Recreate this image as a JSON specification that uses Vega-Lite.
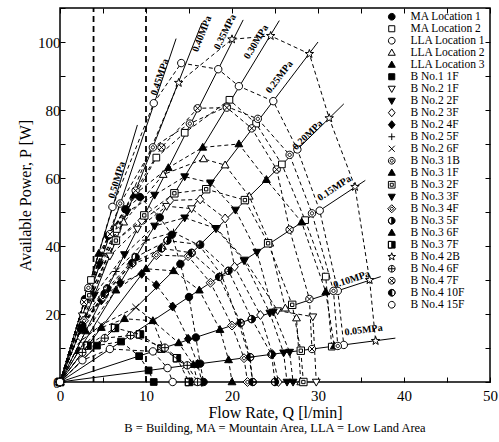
{
"$schema":"https://vega.github.io/schema/vega-lite/v6.json",
"width":430,"height":374,
"autosize":{"type":"none"},
"padding":{"left":60,"top":8,"right":9,"bottom":60},
"background":"white",
"title":{"text":"B = Building, MA = Mountain Area, LLA = Low Land Area","orient":"bottom","anchor":"middle","font":"Liberation Serif","fontSize":12.5,"fontWeight":"normal","color":"black","offset":2},
"datasets":{
"plines":[
{"p":"0.05","Q":0,"P":0},{"p":"0.05","Q":39,"P":12.9},
{"p":"0.10","Q":0,"P":0},{"p":"0.10","Q":37.3,"P":31},
{"p":"0.15","Q":0,"P":0},{"p":"0.15","Q":35.5,"P":59.3},
{"p":"0.20","Q":0,"P":0},{"p":"0.20","Q":33,"P":81.8},
{"p":"0.25","Q":0,"P":0},{"p":"0.25","Q":30,"P":100},
{"p":"0.30","Q":0,"P":0},{"p":"0.30","Q":25.5,"P":106.3},
{"p":"0.35","Q":0,"P":0},{"p":"0.35","Q":21.3,"P":106.5},
{"p":"0.40","Q":0,"P":0},{"p":"0.40","Q":16.5,"P":105.6},
{"p":"0.45","Q":0,"P":0},{"p":"0.45","Q":13.5,"P":101},
{"p":"0.50","Q":0,"P":0},{"p":"0.50","Q":9,"P":75.6}
],
"vlines":[{"v":"a","Q":3.9,"P":0},{"v":"a","Q":3.9,"P":110},{"v":"b","Q":10,"P":0},{"v":"b","Q":10,"P":110}],
"labs":[
{"p":"0.05MPa","Q":35.3,"P":15.3},{"p":"0.10MPa","Q":33.9,"P":30.2},{"p":"0.15MPa","Q":31.9,"P":57},{"p":"0.20MPa","Q":28.8,"P":72.6},{"p":"0.25MPa","Q":25.5,"P":89.7},{"p":"0.30MPa","Q":22.8,"P":100},{"p":"0.35MPa","Q":19.2,"P":103},{"p":"0.40MPa","Q":16.5,"P":102.4},{"p":"0.45MPa","Q":11.6,"P":89.7},{"p":"0.50MPa","Q":6.6,"P":59.4}
],
"pts":[
{"s":"MA Location 1","Q":0,"P":0},{"s":"MA Location 1","Q":2.9,"P":24.4},{"s":"MA Location 1","Q":5.6,"P":43},{"s":"MA Location 1","Q":7.6,"P":50.8},{"s":"MA Location 1","Q":9.3,"P":54.4},{"s":"MA Location 1","Q":11.6,"P":48.4},{"s":"MA Location 1","Q":13,"P":43.3},{"s":"MA Location 1","Q":14,"P":34.7},{"s":"MA Location 1","Q":15,"P":25},{"s":"MA Location 1","Q":15.8,"P":13.1},{"s":"MA Location 1","Q":16.3,"P":5.4},{"s":"MA Location 1","Q":16.7,"P":0},
{"s":"MA Location 2","Q":0,"P":0},{"s":"MA Location 2","Q":3.6,"P":30},{"s":"MA Location 2","Q":6.6,"P":45},{"s":"MA Location 2","Q":11.2,"P":66},{"s":"MA Location 2","Q":14.5,"P":73.3},{"s":"MA Location 2","Q":19.7,"P":83},{"s":"MA Location 2","Q":22.8,"P":76},{"s":"MA Location 2","Q":25.8,"P":64},{"s":"MA Location 2","Q":28.5,"P":47.6},{"s":"MA Location 2","Q":30.9,"P":31},{"s":"MA Location 2","Q":31.6,"P":10.4},
{"s":"LLA Location 1","Q":0,"P":0},{"s":"LLA Location 1","Q":6.1,"P":51.5},{"s":"LLA Location 1","Q":10.9,"P":82},{"s":"LLA Location 1","Q":14.1,"P":93.8},{"s":"LLA Location 1","Q":18.4,"P":92},{"s":"LLA Location 1","Q":20.8,"P":87},{"s":"LLA Location 1","Q":24.8,"P":82.6},{"s":"LLA Location 1","Q":27.6,"P":68.4},{"s":"LLA Location 1","Q":30.2,"P":50.4},{"s":"LLA Location 1","Q":32.3,"P":26.8},{"s":"LLA Location 1","Q":33,"P":10.9},
{"s":"LLA Location 2","Q":0,"P":0},{"s":"LLA Location 2","Q":3.3,"P":27.7},{"s":"LLA Location 2","Q":7.4,"P":47},{"s":"LLA Location 2","Q":12,"P":61},{"s":"LLA Location 2","Q":16.7,"P":65.6},{"s":"LLA Location 2","Q":19.2,"P":63.8},{"s":"LLA Location 2","Q":22,"P":54.6},{"s":"LLA Location 2","Q":24.4,"P":40.8},{"s":"LLA Location 2","Q":26.2,"P":21.7},{"s":"LLA Location 2","Q":27.5,"P":18.8},{"s":"LLA Location 2","Q":28,"P":0},
{"s":"LLA Location 3","Q":0,"P":0},{"s":"LLA Location 3","Q":4.5,"P":37.8},{"s":"LLA Location 3","Q":8.6,"P":55},{"s":"LLA Location 3","Q":12.6,"P":63},{"s":"LLA Location 3","Q":16.6,"P":69},{"s":"LLA Location 3","Q":20.8,"P":70},{"s":"LLA Location 3","Q":24,"P":59.5},{"s":"LLA Location 3","Q":28.1,"P":47},{"s":"LLA Location 3","Q":30.9,"P":26.5},{"s":"LLA Location 3","Q":31.9,"P":10.6},
{"s":"B No.1 1F","Q":0,"P":0},{"s":"B No.1 1F","Q":4.3,"P":10.7},{"s":"B No.1 1F","Q":7.1,"P":11.9},{"s":"B No.1 1F","Q":9.2,"P":7.6},{"s":"B No.1 1F","Q":10.3,"P":3.4},{"s":"B No.1 1F","Q":10.9,"P":0},
{"s":"B No.2 1F","Q":0,"P":0},{"s":"B No.2 1F","Q":2.6,"P":19.5},{"s":"B No.2 1F","Q":5.8,"P":37.1},{"s":"B No.2 1F","Q":9,"P":45},{"s":"B No.2 1F","Q":12.4,"P":51.7},{"s":"B No.2 1F","Q":15.3,"P":51},{"s":"B No.2 1F","Q":18.2,"P":45.2},{"s":"B No.2 1F","Q":21.5,"P":35.9},{"s":"B No.2 1F","Q":25.3,"P":21},{"s":"B No.2 1F","Q":29.4,"P":19.2},{"s":"B No.2 1F","Q":29.8,"P":0},
{"s":"B No.2 2F","Q":0,"P":0},{"s":"B No.2 2F","Q":4.6,"P":34.5},{"s":"B No.2 2F","Q":7.8,"P":50},{"s":"B No.2 2F","Q":11,"P":55},{"s":"B No.2 2F","Q":14.5,"P":60.4},{"s":"B No.2 2F","Q":17.5,"P":58.6},{"s":"B No.2 2F","Q":20.4,"P":50.6},{"s":"B No.2 2F","Q":22.9,"P":38.2},{"s":"B No.2 2F","Q":24.8,"P":20.6},{"s":"B No.2 2F","Q":26.7,"P":8.8},{"s":"B No.2 2F","Q":27.1,"P":0},
{"s":"B No.2 3F","Q":0,"P":0},{"s":"B No.2 3F","Q":3.5,"P":26.3},{"s":"B No.2 3F","Q":6.5,"P":41.6},{"s":"B No.2 3F","Q":9.5,"P":47.5},{"s":"B No.2 3F","Q":12.8,"P":53.4},{"s":"B No.2 3F","Q":16.3,"P":53.7},{"s":"B No.2 3F","Q":19.2,"P":48.1},{"s":"B No.2 3F","Q":20.3,"P":33.9},{"s":"B No.2 3F","Q":23.3,"P":19.7},{"s":"B No.2 3F","Q":24.7,"P":8.2},{"s":"B No.2 3F","Q":25.4,"P":0},
{"s":"B No.2 4F","Q":0,"P":0},{"s":"B No.2 4F","Q":2.4,"P":15.4},{"s":"B No.2 4F","Q":4.8,"P":24},{"s":"B No.2 4F","Q":7,"P":29.2},{"s":"B No.2 4F","Q":9.5,"P":31.8},{"s":"B No.2 4F","Q":11.2,"P":28.5},{"s":"B No.2 4F","Q":13.1,"P":22.2},{"s":"B No.2 4F","Q":14.9,"P":12.7},{"s":"B No.2 4F","Q":16,"P":5.3},{"s":"B No.2 4F","Q":16.5,"P":0},
{"s":"B No.2 5F","Q":0,"P":0},{"s":"B No.2 5F","Q":3,"P":19.2},{"s":"B No.2 5F","Q":6.5,"P":32.5},{"s":"B No.2 5F","Q":10,"P":41.7},{"s":"B No.2 5F","Q":13.2,"P":44},{"s":"B No.2 5F","Q":16.2,"P":40.2},{"s":"B No.2 5F","Q":18.8,"P":31.4},{"s":"B No.2 5F","Q":20.8,"P":17.3},{"s":"B No.2 5F","Q":22,"P":7.3},{"s":"B No.2 5F","Q":22.4,"P":0},
{"s":"B No.2 6F","Q":0,"P":0},{"s":"B No.2 6F","Q":2.4,"P":12},{"s":"B No.2 6F","Q":4.8,"P":16.8},{"s":"B No.2 6F","Q":8.8,"P":22},{"s":"B No.2 6F","Q":10.8,"P":18},{"s":"B No.2 6F","Q":12,"P":10},{"s":"B No.2 6F","Q":14.6,"P":4.8},{"s":"B No.2 6F","Q":15.5,"P":0},
{"s":"B No.3 1B","Q":0,"P":0},{"s":"B No.3 1B","Q":3.3,"P":27.7},{"s":"B No.3 1B","Q":7,"P":52.5},{"s":"B No.3 1B","Q":10.8,"P":69},{"s":"B No.3 1B","Q":15.1,"P":76},{"s":"B No.3 1B","Q":19.4,"P":81},{"s":"B No.3 1B","Q":23,"P":77.4},{"s":"B No.3 1B","Q":26.7,"P":66.8},{"s":"B No.3 1B","Q":29.3,"P":49.6},{"s":"B No.3 1B","Q":31.8,"P":26.8},{"s":"B No.3 1B","Q":32.3,"P":10.6},
{"s":"B No.3 1F","Q":0,"P":0},{"s":"B No.3 1F","Q":2.2,"P":9.2},{"s":"B No.3 1F","Q":4.8,"P":16},{"s":"B No.3 1F","Q":7.5,"P":18.6},{"s":"B No.3 1F","Q":10.8,"P":18},{"s":"B No.3 1F","Q":13.8,"P":11.5},{"s":"B No.3 1F","Q":15.5,"P":5.1},{"s":"B No.3 1F","Q":16,"P":0},
{"s":"B No.3 2F","Q":0,"P":0},{"s":"B No.3 2F","Q":3.4,"P":25.5},{"s":"B No.3 2F","Q":6.5,"P":41.6},{"s":"B No.3 2F","Q":9.8,"P":49},{"s":"B No.3 2F","Q":13.3,"P":55.5},{"s":"B No.3 2F","Q":17,"P":56.7},{"s":"B No.3 2F","Q":21.5,"P":53.5},{"s":"B No.3 2F","Q":24.2,"P":40.8},{"s":"B No.3 2F","Q":27,"P":22.7},{"s":"B No.3 2F","Q":28,"P":9.2},{"s":"B No.3 2F","Q":28.3,"P":0},
{"s":"B No.3 3F","Q":0,"P":0},{"s":"B No.3 3F","Q":4,"P":25.6},{"s":"B No.3 3F","Q":7.5,"P":37.5},{"s":"B No.3 3F","Q":11,"P":45.9},{"s":"B No.3 3F","Q":14.5,"P":48.3},{"s":"B No.3 3F","Q":18.1,"P":45.2},{"s":"B No.3 3F","Q":21.4,"P":35.7},{"s":"B No.3 3F","Q":24.4,"P":20.3},{"s":"B No.3 3F","Q":26,"P":8.6},{"s":"B No.3 3F","Q":26.4,"P":0},
{"s":"B No.3 4F","Q":0,"P":0},{"s":"B No.3 4F","Q":2.8,"P":18},{"s":"B No.3 4F","Q":5,"P":25},{"s":"B No.3 4F","Q":8.3,"P":34.6},{"s":"B No.3 4F","Q":11.2,"P":37.3},{"s":"B No.3 4F","Q":14.9,"P":37},{"s":"B No.3 4F","Q":17.5,"P":29.2},{"s":"B No.3 4F","Q":20,"P":16.6},{"s":"B No.3 4F","Q":21.4,"P":7},{"s":"B No.3 4F","Q":21.8,"P":0},
{"s":"B No.3 5F","Q":0,"P":0},{"s":"B No.3 5F","Q":2.6,"P":16.6},{"s":"B No.3 5F","Q":5.5,"P":27.5},{"s":"B No.3 5F","Q":8.8,"P":36.7},{"s":"B No.3 5F","Q":12.5,"P":41.6},{"s":"B No.3 5F","Q":16.3,"P":40.4},{"s":"B No.3 5F","Q":19.6,"P":32.7},{"s":"B No.3 5F","Q":22.3,"P":18.5},{"s":"B No.3 5F","Q":24.6,"P":8.1},{"s":"B No.3 5F","Q":25,"P":0},
{"s":"B No.3 6F","Q":0,"P":0},{"s":"B No.3 6F","Q":3,"P":15},{"s":"B No.3 6F","Q":6.5,"P":27},{"s":"B No.3 6F","Q":10,"P":33.3},{"s":"B No.3 6F","Q":13.2,"P":32.7},{"s":"B No.3 6F","Q":16.2,"P":27},{"s":"B No.3 6F","Q":18.6,"P":15.4},{"s":"B No.3 6F","Q":19.6,"P":6.5},{"s":"B No.3 6F","Q":20,"P":0},
{"s":"B No.3 7F","Q":0,"P":0},{"s":"B No.3 7F","Q":3.2,"P":10.7},{"s":"B No.3 7F","Q":6.4,"P":15.9},{"s":"B No.3 7F","Q":9.3,"P":14},{"s":"B No.3 7F","Q":11.8,"P":9.8},{"s":"B No.3 7F","Q":13.6,"P":7},{"s":"B No.3 7F","Q":15,"P":0},
{"s":"B No.4 2B","Q":0,"P":0},{"s":"B No.4 2B","Q":6.8,"P":46},{"s":"B No.4 2B","Q":13.8,"P":88},{"s":"B No.4 2B","Q":20,"P":100.8},{"s":"B No.4 2B","Q":24.5,"P":101.8},{"s":"B No.4 2B","Q":29,"P":96.5},{"s":"B No.4 2B","Q":31.3,"P":77.6},{"s":"B No.4 2B","Q":34.3,"P":57.4},{"s":"B No.4 2B","Q":36,"P":30},{"s":"B No.4 2B","Q":36.7,"P":12.1},
{"s":"B No.4 6F","Q":0,"P":0},{"s":"B No.4 6F","Q":2.6,"P":8.7},{"s":"B No.4 6F","Q":5.2,"P":12.9},{"s":"B No.4 6F","Q":8.2,"P":13.7},{"s":"B No.4 6F","Q":12.2,"P":10.1},{"s":"B No.4 6F","Q":14.8,"P":4.9},{"s":"B No.4 6F","Q":16,"P":0},
{"s":"B No.4 7F","Q":0,"P":0},{"s":"B No.4 7F","Q":2.8,"P":23.5},{"s":"B No.4 7F","Q":5.8,"P":43.5},{"s":"B No.4 7F","Q":8.8,"P":56.3},{"s":"B No.4 7F","Q":11.8,"P":69},{"s":"B No.4 7F","Q":16,"P":80.5},{"s":"B No.4 7F","Q":19.4,"P":80.7},{"s":"B No.4 7F","Q":22.3,"P":74.6},{"s":"B No.4 7F","Q":25.2,"P":62.5},{"s":"B No.4 7F","Q":26.7,"P":44.8},{"s":"B No.4 7F","Q":29,"P":24.4},{"s":"B No.4 7F","Q":29.3,"P":9.7},
{"s":"B No.4 10F","Q":0,"P":0},{"s":"B No.4 10F","Q":2.5,"P":16},{"s":"B No.4 10F","Q":5.2,"P":26},{"s":"B No.4 10F","Q":8.4,"P":35},{"s":"B No.4 10F","Q":11.8,"P":39.3},{"s":"B No.4 10F","Q":15.3,"P":38},{"s":"B No.4 10F","Q":18.5,"P":30.9},{"s":"B No.4 10F","Q":21,"P":17.4},{"s":"B No.4 10F","Q":22.1,"P":7.3},{"s":"B No.4 10F","Q":22.4,"P":0},
{"s":"B No.4 15F","Q":0,"P":0},{"s":"B No.4 15F","Q":2.6,"P":6.4},{"s":"B No.4 15F","Q":5.8,"P":9.7},{"s":"B No.4 15F","Q":10.8,"P":9},{"s":"B No.4 15F","Q":12.5,"P":4.1},{"s":"B No.4 15F","Q":13.1,"P":0}
]
},
"layer":[
{"data":{"name":"plines"},"mark":{"type":"line","color":"black","strokeWidth":1},
 "encoding":{
  "x":{"field":"Q","type":"quantitative","scale":{"domain":[0,50],"nice":false},"axis":{"orient":"bottom","values":[0,5,10,15,20,25,30,35,40,45,50],"labelExpr":"datum.value % 10 == 0 ? datum.label : ''","tickSize":-5,"labelPadding":11,"title":"Flow Rate, Q [l/min]","titlePadding":1}},
  "y":{"field":"P","type":"quantitative","scale":{"domain":[0,110],"nice":false},"axis":{"orient":"left","values":[0,10,20,30,40,50,60,70,80,90,100,110],"labelExpr":"datum.value % 20 == 0 && datum.value <= 100 ? datum.label : ''","tickSize":-5,"labelPadding":5,"title":"Available Power, P [W]","titlePadding":4}},
  "detail":{"field":"p"}}},
{"data":{"name":"vlines"},"mark":{"type":"line","color":"black","strokeWidth":1.8,"strokeDash":[6,4]},
 "encoding":{
  "x":{"field":"Q","type":"quantitative","axis":{"orient":"top","values":[0,5,10,15,20,25,30,35,40,45,50],"labels":false,"tickSize":-5,"title":null}},
  "y":{"field":"P","type":"quantitative","axis":{"orient":"right","values":[0,10,20,30,40,50,60,70,80,90,100,110],"labels":false,"tickSize":-5,"title":null}},
  "detail":{"field":"v"}}},
{"data":{"name":"pts"},"mark":{"type":"line","color":"black","strokeWidth":1,"strokeDash":[4,3]},
 "encoding":{"x":{"field":"Q","type":"quantitative","axis":null},"y":{"field":"P","type":"quantitative","axis":null},"detail":{"field":"s"}}},
{"data":{"name":"pts"},"mark":{"type":"point","filled":true,"strokeWidth":1,"size":55,"opacity":1},
 "encoding":{"x":{"field":"Q","type":"quantitative","axis":null},"y":{"field":"P","type":"quantitative","axis":null},
  "shape":{"field":"s","type":"nominal","title":null,
   "legend":{"title":null,"rowPadding":-3.5,"labelFontSize":11.5},
   "scale":{"domain":["MA Location 1","MA Location 2","LLA Location 1","LLA Location 2","LLA Location 3","B No.1 1F","B No.2 1F","B No.2 2F","B No.2 3F","B No.2 4F","B No.2 5F","B No.2 6F","B No.3 1B","B No.3 1F","B No.3 2F","B No.3 3F","B No.3 4F","B No.3 5F","B No.3 6F","B No.3 7F","B No.4 2B","B No.4 6F","B No.4 7F","B No.4 10F","B No.4 15F"],
   "range":["M1,0A1,1 0 1,1 -1,0A1,1 0 1,1 1,0Z","M-0.9,-0.9H0.9V0.9H-0.9Z","M1,0A1,1 0 1,1 -1,0A1,1 0 1,1 1,0Z","M0,-1.1L1.05,0.75L-1.05,0.75Z","M0,-1.1L1.05,0.75L-1.05,0.75Z","M-0.9,-0.9H0.9V0.9H-0.9Z","M0,1.1L1.05,-0.75L-1.05,-0.75Z","M0,1.1L1.05,-0.75L-1.05,-0.75Z","M0,-1.2L1,0L0,1.2L-1,0Z","M0,-1.2L1,0L0,1.2L-1,0Z","M-1,0H1M0,-1V1","M-0.9,-0.9L0.9,0.9M-0.9,0.9L0.9,-0.9","M1,0A1,1 0 1,1 -1,0A1,1 0 1,1 1,0Z M0.45,0A0.45,0.45 0 1,1 -0.45,0A0.45,0.45 0 1,1 0.45,0Z","M0,-1.1L1.05,0.75L-1.05,0.75Z","M-1,-1H1V1H-1Z M-0.45,-0.45H0.45V0.45H-0.45Z","M0,1.1L1.05,-0.75L-1.05,-0.75Z","M0,-1.2L1.2,0L0,1.2L-1.2,0Z M0,-0.55L0.55,0L0,0.55L-0.55,0Z","M0,-1A1,1 0 0,1 0,1Z M0,-1A1,1 0 0,0 0,1A1,1 0 0,1 0,-1","M0,-1.1L1.05,0.75L-1.05,0.75Z","M0,-1H1V1H0Z M0,-1H-1V1H0H-1V-1H0","M0,-1.2L0.28,-0.39L1.14,-0.37L0.46,0.15L0.71,0.97L0,0.48L-0.71,0.97L-0.46,0.15L-1.14,-0.37L-0.28,-0.39Z","M1,0A1,1 0 1,1 -1,0A1,1 0 1,1 1,0Z M-1,0H1M0,-1V1","M1,0A1,1 0 1,1 -1,0A1,1 0 1,1 1,0Z M-0.71,-0.71L0.71,0.71M-0.71,0.71L0.71,-0.71","M0,-1A1,1 0 0,0 0,1Z M0,-1A1,1 0 0,1 0,1A1,1 0 0,0 0,-1","M1,0A1,1 0 1,1 -1,0A1,1 0 1,1 1,0Z"]}},
  "fill":{"field":"s","type":"nominal","title":null,
   "legend":{"title":null,"rowPadding":-3.5,"labelFontSize":11.5},
   "scale":{"domain":["MA Location 1","MA Location 2","LLA Location 1","LLA Location 2","LLA Location 3","B No.1 1F","B No.2 1F","B No.2 2F","B No.2 3F","B No.2 4F","B No.2 5F","B No.2 6F","B No.3 1B","B No.3 1F","B No.3 2F","B No.3 3F","B No.3 4F","B No.3 5F","B No.3 6F","B No.3 7F","B No.4 2B","B No.4 6F","B No.4 7F","B No.4 10F","B No.4 15F"],
   "range":["black","white","white","white","black","black","white","black","white","black","white","white","white","black","white","black","white","black","black","black","white","white","white","black","white"]}},
  "stroke":{"field":"s","type":"nominal","title":null,
   "legend":{"title":null,"rowPadding":-3.5,"labelFontSize":11.5},
   "scale":{"domain":["MA Location 1","MA Location 2","LLA Location 1","LLA Location 2","LLA Location 3","B No.1 1F","B No.2 1F","B No.2 2F","B No.2 3F","B No.2 4F","B No.2 5F","B No.2 6F","B No.3 1B","B No.3 1F","B No.3 2F","B No.3 3F","B No.3 4F","B No.3 5F","B No.3 6F","B No.3 7F","B No.4 2B","B No.4 6F","B No.4 7F","B No.4 10F","B No.4 15F"],
   "range":["black","black","black","black","black","black","black","black","black","black","black","black","black","black","black","black","black","black","black","black","black","black","black","black","black"]}}}},
{"data":{"name":"labs"},"transform":[{"filter":"datum.p == '0.05MPa'"}],"mark":{"type":"text","angle":-7.4,"font":"Liberation Serif","fontWeight":"bold","fontSize":10,"color":"black"},"encoding":{"x":{"field":"Q","type":"quantitative","axis":null},"y":{"field":"P","type":"quantitative","axis":null},"text":{"field":"p"}}},
{"data":{"name":"labs"},"transform":[{"filter":"datum.p == '0.10MPa'"}],"mark":{"type":"text","angle":-18.2,"font":"Liberation Serif","fontWeight":"bold","fontSize":10,"color":"black"},"encoding":{"x":{"field":"Q","type":"quantitative","axis":null},"y":{"field":"P","type":"quantitative","axis":null},"text":{"field":"p"}}},
{"data":{"name":"labs"},"transform":[{"filter":"datum.p == '0.15MPa'"}],"mark":{"type":"text","angle":-33.4,"font":"Liberation Serif","fontWeight":"bold","fontSize":10,"color":"black"},"encoding":{"x":{"field":"Q","type":"quantitative","axis":null},"y":{"field":"P","type":"quantitative","axis":null},"text":{"field":"p"}}},
{"data":{"name":"labs"},"transform":[{"filter":"datum.p == '0.20MPa'"}],"mark":{"type":"text","angle":-44.4,"font":"Liberation Serif","fontWeight":"bold","fontSize":10,"color":"black"},"encoding":{"x":{"field":"Q","type":"quantitative","axis":null},"y":{"field":"P","type":"quantitative","axis":null},"text":{"field":"p"}}},
{"data":{"name":"labs"},"transform":[{"filter":"datum.p == '0.25MPa'"}],"mark":{"type":"text","angle":-52.8,"font":"Liberation Serif","fontWeight":"bold","fontSize":10,"color":"black"},"encoding":{"x":{"field":"Q","type":"quantitative","axis":null},"y":{"field":"P","type":"quantitative","axis":null},"text":{"field":"p"}}},
{"data":{"name":"labs"},"transform":[{"filter":"datum.p == '0.30MPa'"}],"mark":{"type":"text","angle":-58.8,"font":"Liberation Serif","fontWeight":"bold","fontSize":10,"color":"black"},"encoding":{"x":{"field":"Q","type":"quantitative","axis":null},"y":{"field":"P","type":"quantitative","axis":null},"text":{"field":"p"}}},
{"data":{"name":"labs"},"transform":[{"filter":"datum.p == '0.35MPa'"}],"mark":{"type":"text","angle":-63.2,"font":"Liberation Serif","fontWeight":"bold","fontSize":10,"color":"black"},"encoding":{"x":{"field":"Q","type":"quantitative","axis":null},"y":{"field":"P","type":"quantitative","axis":null},"text":{"field":"p"}}},
{"data":{"name":"labs"},"transform":[{"filter":"datum.p == '0.40MPa'"}],"mark":{"type":"text","angle":-68.4,"font":"Liberation Serif","fontWeight":"bold","fontSize":10,"color":"black"},"encoding":{"x":{"field":"Q","type":"quantitative","axis":null},"y":{"field":"P","type":"quantitative","axis":null},"text":{"field":"p"}}},
{"data":{"name":"labs"},"transform":[{"filter":"datum.p == '0.45MPa'"}],"mark":{"type":"text","angle":-71.4,"font":"Liberation Serif","fontWeight":"bold","fontSize":10,"color":"black"},"encoding":{"x":{"field":"Q","type":"quantitative","axis":null},"y":{"field":"P","type":"quantitative","axis":null},"text":{"field":"p"}}},
{"data":{"name":"labs"},"transform":[{"filter":"datum.p == '0.50MPa'"}],"mark":{"type":"text","angle":-73.2,"font":"Liberation Serif","fontWeight":"bold","fontSize":10,"color":"black"},"encoding":{"x":{"field":"Q","type":"quantitative","axis":null},"y":{"field":"P","type":"quantitative","axis":null},"text":{"field":"p"}}}
],
"resolve":{"axis":{"x":"independent","y":"independent"}},
"config":{
 "font":"Liberation Serif",
 "view":{"stroke":"black","strokeWidth":1.5},
 "axis":{"labelFont":"Liberation Serif","titleFont":"Liberation Serif","labelColor":"black","titleColor":"black","tickColor":"black","labelFontSize":15,"titleFontSize":16,"titleFontWeight":"normal","grid":false,"domain":false,"labelFlush":false,"labelOverlap":false},
 "legend":{"orient":"none","legendX":326,"legendY":3,"labelFont":"Liberation Serif","labelFontSize":11.5,"labelColor":"black","symbolSize":45,"symbolStrokeWidth":1,"rowPadding":-3.5,"labelOffset":13,"labelLimit":200}
}
}
